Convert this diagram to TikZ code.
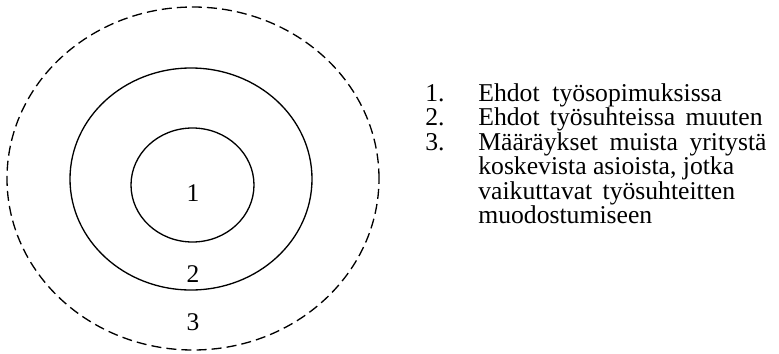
\documentclass[tikz,border=0pt]{standalone}
\usepackage{fontspec}
\setmainfont{Liberation Serif}
\usepackage{tikz}
\usetikzlibrary{positioning}

\begin{document}
\begin{tikzpicture}[
    ring/.style={line width=0.75pt},
    outerring/.style={ring, dash pattern=on 5.7pt off 2.9pt},
    numlabel/.style={font=\fontsize{14.5}{16}\selectfont, anchor=base, inner sep=0pt},
    listtext/.style={font=\fontsize{14.6}{17}\selectfont, anchor=base west, inner sep=0pt}
  ]
    \useasboundingbox (0,0) rectangle (15.58,7.06);
    % the three nested areas
    \draw[outerring] (3.86,3.49) ellipse [x radius=3.72, y radius=3.43];
    \draw[ring] (3.82,3.48) ellipse [x radius=2.42, y radius=2.22];
    \draw[ring] (3.85,3.36) ellipse [x radius=1.23, y radius=1.14];
    \node[numlabel] (one) at (3.86,3.04) {1};
    \node[numlabel] (two) at (3.86,1.42) {2};
    \node[numlabel] (three) at (3.86,0.46) {3};
    % explanation of the areas
    \node[listtext] (n1) at (8.5,5.04) {1.};
    \node[listtext] (n2) at (8.5,4.55) {2.};
    \node[listtext] (n3) at (8.5,4.06) {3.};
    \node[listtext] (t1) at (9.56,5.04) {Ehdot\hspace{0.5em}työsopimuksissa};
    \node[listtext] (t2) at (9.56,4.55) {Ehdot\hspace{0.4em}työsuhteissa\hspace{0.4em}muuten};
    \node[listtext] (t3) at (9.56,4.06) {Määräykset\hspace{0.45em}muista\hspace{0.45em}yritystä};
    \node[listtext] (t4) at (9.56,3.57) {koskevista asioista, jotka};
    \node[listtext] (t5) at (9.56,3.08) {vaikuttavat\hspace{0.4em}työsuhteitten};
    \node[listtext] (t6) at (9.56,2.59) {muodostumiseen};
\end{tikzpicture}
\end{document}
